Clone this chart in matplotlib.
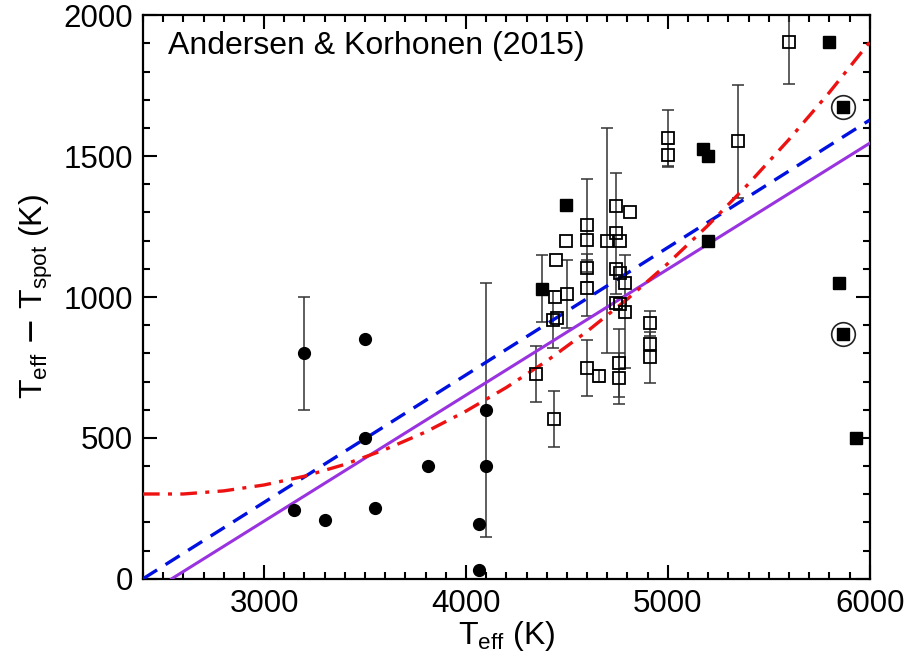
import numpy as np
import matplotlib
matplotlib.use('Agg')
import matplotlib.pyplot as plt
from matplotlib.ticker import MultipleLocator

plt.rcParams['font.family'] = ['Liberation Sans', 'DejaVu Sans']

# filled circles (cool stars)
circ_teff = [3200, 3500, 3500, 3150, 3300, 3550, 3810, 4100, 4100, 4065, 4065]
circ_dt   = [800, 850, 500, 245, 210, 250, 400, 600, 400, 195, 30]
circ_err  = [200, 0, 0, 0, 0, 0, 0, 450, 0, 0, 0]

# open squares
osq_teff = [4345, 4437, 4445, 4440, 4430, 4450, 4495, 4500,
            4600, 4600, 4600, 4600, 4600, 4660, 4700,
            4745, 4745, 4745, 4745, 4762, 4762, 4762, 4759, 4759,
            4787, 4787, 4815, 4910, 4910, 4910, 5000, 5000, 5350, 5600]
osq_dt   = [727, 566, 1130, 1000, 920, 925, 1200, 1010,
            1255, 1202, 1102, 1031, 747, 720, 1200,
            1323, 1226, 1098, 978, 1200, 1084, 975, 765, 712,
            1049, 948, 1300, 907, 833, 786, 1563, 1504, 1553, 1905]
osq_err  = [100, 100, 0, 0, 100, 0, 0, 120,
            165, 0, 50, 100, 100, 20, 400,
            0, 215, 0, 0, 0, 0, 0, 120, 90,
            0, 200, 0, 45, 0, 90, 100, 40, 200, 150]

# filled squares
fsq_teff = [4375, 4495, 5175, 5200, 5200, 5800, 5870, 5850, 5870, 5930]
fsq_dt   = [1030, 1325, 1527, 1500, 1200, 1905, 1675, 1050, 870, 500]
fsq_err  = [120, 0, 0, 0, 0, 0, 0, 0, 0, 0]
circled  = [False, False, False, False, False, False, True, False, True, False]

# relations
purple_teff = [2542, 6000]
purple_dt   = [0, 1546]
blue_teff = [2400, 6000]
blue_dt   = [0, 1628]
red_teff = [2400, 2600, 2800, 3000, 3200, 3400, 3600, 3800, 4000, 4200, 4400,
            4600, 4800, 5000, 5200, 5400, 5600, 5800, 6000]
red_dt   = [301, 301, 312, 333, 364, 406, 459, 521, 595, 679, 773,
            878, 993, 1119, 1255, 1402, 1559, 1726, 1905]

fig = plt.figure(figsize=(9.05, 6.63), dpi=100)
ax = fig.add_axes([0.158, 0.127, 0.803, 0.850])

ebkw = dict(fmt='none', ecolor='#333333', elinewidth=1.1, capsize=4, capthick=1.1)

def with_err(t, d, e):
    idx = [i for i in range(len(e)) if e[i] > 0]
    return [t[i] for i in idx], [d[i] for i in idx], [e[i] for i in idx]

for t, d, e in [(circ_teff, circ_dt, circ_err), (osq_teff, osq_dt, osq_err),
                (fsq_teff, fsq_dt, fsq_err)]:
    tt, dd, ee = with_err(t, d, e)
    ax.errorbar(tt, dd, yerr=ee, **ebkw, zorder=2)

ax.plot(circ_teff, circ_dt, 'o', color='black', ms=8.5, zorder=4)
ax.plot(osq_teff, osq_dt, 's', mfc='none', mec='black', mew=1.3, ms=8.5, zorder=4)
ax.plot(fsq_teff, fsq_dt, 's', color='black', ms=8.5, zorder=4)
ct = [fsq_teff[i] for i in range(len(circled)) if circled[i]]
cd = [fsq_dt[i] for i in range(len(circled)) if circled[i]]
ax.plot(ct, cd, 'o', mfc='none', mec='#222222', mew=1.2, ms=17, zorder=4)

ax.plot(purple_teff, purple_dt, '-', color='#9933e0', lw=2.2, zorder=3)
ax.plot(blue_teff, blue_dt, '--', color='#0010e0', lw=2.4, dashes=(5, 3), zorder=3)
ax.plot(red_teff, red_dt, '-.', color='#ee1111', lw=2.4, dashes=(5, 2.5, 1.2, 2.5), zorder=3)

ax.set_xlim(2400, 6000)
ax.set_ylim(0, 2000)
ax.xaxis.set_major_locator(MultipleLocator(1000))
ax.xaxis.set_minor_locator(MultipleLocator(100))
ax.yaxis.set_major_locator(MultipleLocator(500))
ax.yaxis.set_minor_locator(MultipleLocator(100))
ax.tick_params(which='both', direction='in', top=True, right=True, width=1.5,
               labelsize=22.5)
ax.tick_params(which='major', length=10, pad=7)
ax.tick_params(which='minor', length=5)
for sp in ax.spines.values():
    sp.set_linewidth(1.6)

ax.set_xlabel(r'$\mathregular{T_{eff}}$ (K)', fontsize=23, labelpad=0)
ax.set_ylabel(r'$\mathregular{T_{eff}}$ $-$ $\mathregular{T_{spot}}$ (K)', fontsize=23, labelpad=6)
ax.text(0.035, 0.945, 'Andersen & Korhonen (2015)', transform=ax.transAxes,
        fontsize=23, va='center', ha='left')

plt.savefig('out.png', dpi=100)
plt.close()
